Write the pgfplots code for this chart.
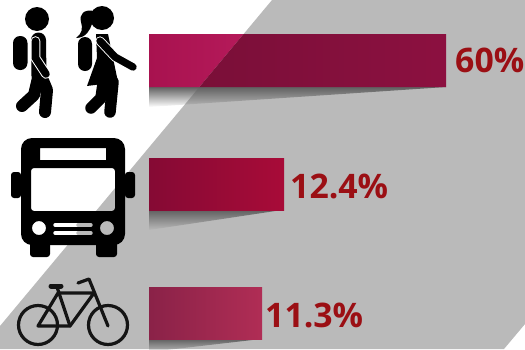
\documentclass[border=0pt]{standalone}
\usepackage{pgfplots}
\pgfplotsset{compat=1.18}
\usepackage{fontspec}
\setmainfont{Open Sans}
\usetikzlibrary{fadings}
\definecolor{bg}{HTML}{BABABA}
\definecolor{lab}{HTML}{9B0F14}
\definecolor{aL}{HTML}{A8124F}\definecolor{aM}{HTML}{B51A5A}
\definecolor{aD}{HTML}{7A0F38}\definecolor{aR}{HTML}{8C1040}
\definecolor{bL}{HTML}{850A34}\definecolor{bR}{HTML}{A80B38}
\definecolor{cL}{HTML}{8A2248}\definecolor{cR}{HTML}{B02D55}
\begin{document}
\begin{tikzpicture}
\begin{axis}[
  scale only axis, width=525pt, height=349pt,
  xmin=0, xmax=525, ymin=0, ymax=349, y dir=reverse,
  hide axis, clip=true,
  every axis plot/.append style={draw=none},
]
% background band
\addplot[fill=bg] coordinates {(272,0) (525,0) (525,324) (504,349) (-20,349) (0,326)} -- cycle;
% shadows
\addplot[fill=black!62, path fading=south] coordinates {(149,87) (446,87) (149,107)} -- cycle;
\addplot[fill=black!62, path fading=south] coordinates {(149,210) (282,210) (149,230)} -- cycle;
\addplot[fill=black!62, path fading=south] coordinates {(149,339) (261,339) (149,352)} -- cycle;
% bars
\addplot[left color=aL, right color=aM] coordinates {(149,34) (243.6,34) (199.4,87) (149,87)} -- cycle;
\addplot[left color=aD, right color=aR] coordinates {(243.6,34) (446,34) (446,87) (199.4,87)} -- cycle;
\addplot[left color=bL, right color=bR] coordinates {(149,158) (284,158) (284,210) (149,210)} -- cycle;
\addplot[left color=cL, right color=cR] coordinates {(149,287) (262,287) (262,339) (149,339)} -- cycle;
% values
\node[anchor=west, text=lab, font=\fontsize{33.8}{34}\selectfont\bfseries, inner sep=0pt] at (455,60) {60\%};
\node[anchor=west, text=lab, font=\fontsize{33.8}{34}\selectfont\bfseries, inner sep=0pt] at (290,186) {12.4\%};
\node[anchor=west, text=lab, font=\fontsize{33.8}{34}\selectfont\bfseries, inner sep=0pt] at (265,315) {11.3\%};
% man
\fill (37,19) circle[radius=12];
\fill[rounded corners=7pt] (13,36) rectangle (27.5,70);
\draw[line width=15pt, line cap=round, line join=round] (38.5,40) -- (39,76);
\draw[line width=12pt, line cap=round, line join=round] (38,78) -- (34,95) -- (22,106);
\draw[line width=12pt, line cap=round, line join=round] (42,78) -- (47,90) -- (45,112);
\draw[white, line width=9.6pt, line cap=round] (35.5,41) -- (35.5,58) -- (46,74);
\draw[line width=7.6pt, line cap=round] (35.5,41) -- (35.5,58) -- (46,74);
% woman
\fill (102,18) circle[radius=12];
\fill (94,11) .. controls (84,9) and (79,14) .. (81,22) .. controls (83,28) and (82,34) .. (76,38) .. controls (86,38) and (90,30) .. (92,24) -- cycle;
\fill[rounded corners=7pt] (78,37) rectangle (92,71);
\fill (96,34) -- (108,34) -- (118,82) -- (87,86) -- (97,58) -- cycle;
\draw[line width=11.5pt, line cap=round, line join=round] (103,84) -- (101,98) -- (91,108);
\draw[line width=11.5pt, line cap=round, line join=round] (113,82) -- (110,112);
\draw[white, line width=9.2pt, line cap=round, line join=round] (100,41) -- (115,57) -- (133,67);
\draw[line width=7.4pt, line cap=round, line join=round] (100,41) -- (115,57) -- (133,67);
% bus
\fill[even odd rule]
  [rounded corners=11pt] (21,245) -- (21,138) -- (125,138) -- (125,245) -- cycle
  [rounded corners=0pt] (40,148) rectangle (106,160)
  [rounded corners=3pt] (31,168) rectangle (115,211)
  [rounded corners=0pt] (39,228) circle[radius=7] (107,228) circle[radius=7];
\fill[rounded corners=3pt] (11,172) rectangle (21,198);
\fill[rounded corners=3pt] (125,172) rectangle (135,198);
\fill[rounded corners=3pt] (30,240) rectangle (50,257);
\fill[rounded corners=3pt] (96,240) rectangle (117,257);
\draw[white, line width=3.4pt, line cap=round] (55,225) -- (78,225);
\draw[white, line width=3.4pt, line cap=round] (55,233) -- (78,233);
\draw[bg, line width=3.4pt, line cap=round] (78,225) -- (91,225);
\draw[bg, line width=3.4pt, line cap=round] (78,233) -- (91,233);
% bicycle
\begin{scope}[line width=3.2pt, line cap=round, line join=round, draw=black!92]
\draw (38,325) circle[radius=19.5];
\draw (108,325) circle[radius=19.5];
\draw (38,326) -- (70,326) -- (94,293) -- (58,293) -- cycle;
\draw (57,287) -- (70,326);
\draw (108,326) -- (89,279) -- (78,283);
\draw[line width=5pt] (51,286) -- (61,286);
\end{scope}
\end{axis}
\end{tikzpicture}
\end{document}
